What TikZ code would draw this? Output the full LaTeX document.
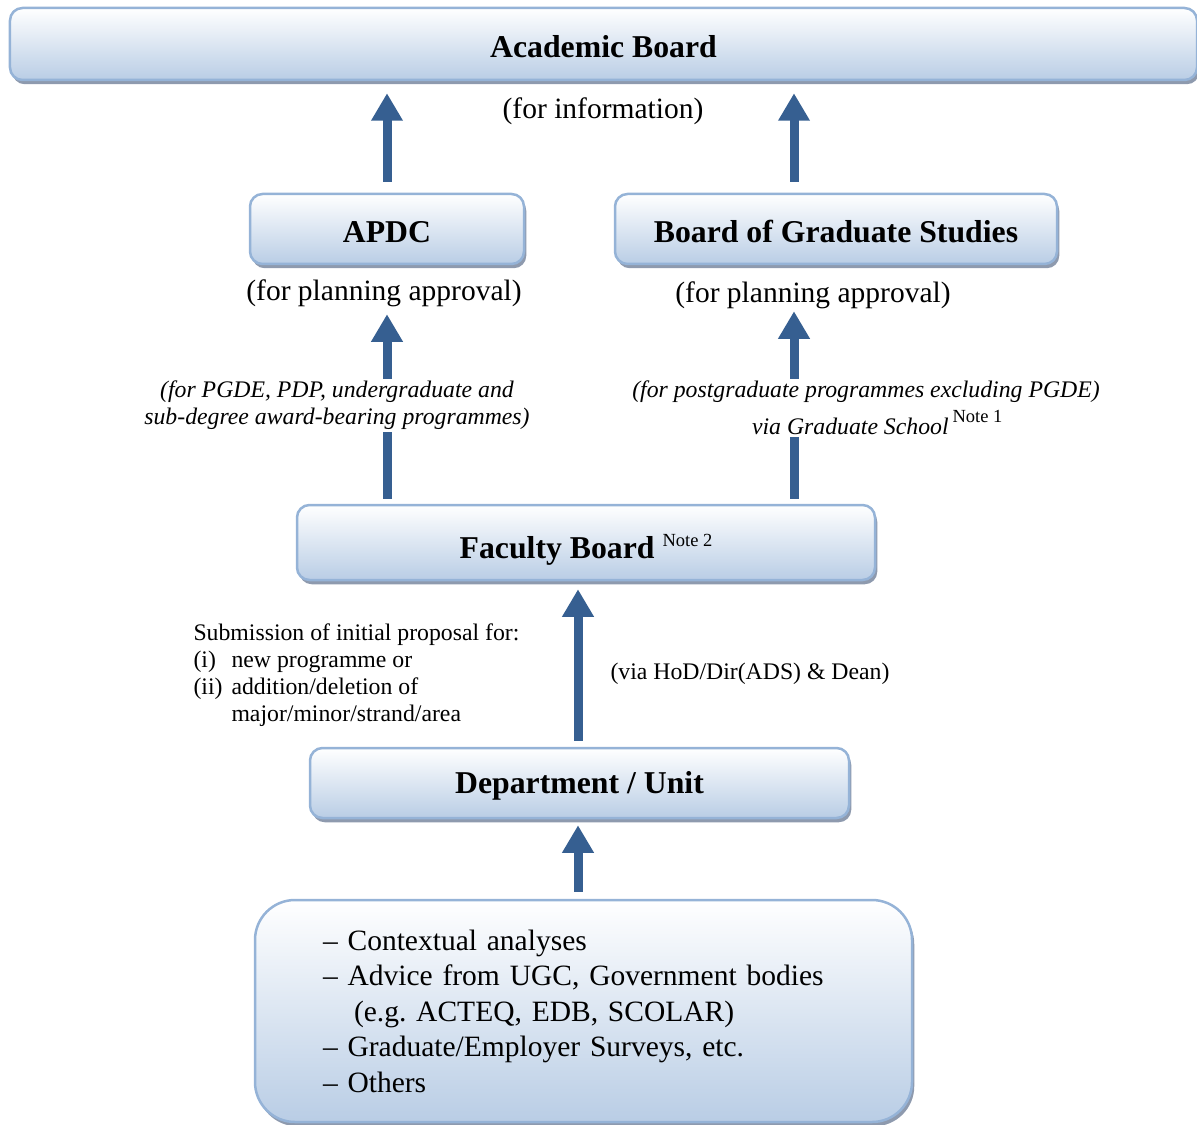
\documentclass[tikz,border=0pt]{standalone}
\usepackage{fontspec}
\setmainfont{Liberation Serif}
\usetikzlibrary{arrows.meta,positioning,shadows}
\definecolor{pdArrow}{HTML}{365F91}
\definecolor{pdEdge}{HTML}{95B3D7}
\definecolor{pdFill}{HTML}{B9CDE5}
\definecolor{pdShade}{HTML}{8E9AAE}
\newcommand{\pdnote}[2][4.8pt]{\raisebox{#1}{\fontsize{7.4}{8}\selectfont\normalfont\upshape #2}}
\tikzset{
  board/.style    ={draw=pdEdge,line width=1pt,rounded corners=5pt,
                    top color=white,bottom color=pdFill,
                    drop shadow={shadow xshift=0.9pt,shadow yshift=-1.7pt,
                                 fill=pdShade,opacity=1},
                    inner sep=0pt,text height=11pt,text depth=0pt,
                    font=\fontsize{12.7}{15}\selectfont\bfseries},
  srcbox/.style   ={board,rounded corners=16pt,text height=,text depth=,
                    font=\fontsize{11.8}{14.2}\selectfont,align=left},
  uparrow/.style  ={-{Triangle[width=12pt,length=11pt]},pdArrow,line width=3.6pt},
  lbl/.style      ={font=\fontsize{11.8}{14}\selectfont,inner sep=0pt},
  slbl/.style     ={font=\fontsize{9.5}{10.8}\selectfont,inner sep=0pt,align=left},
  ilbl/.style     ={font=\fontsize{9.5}{10.8}\selectfont\itshape,inner sep=1pt,
                    align=center,fill=white},
}

\begin{document}
\begin{tikzpicture}[x=0.4pt,y=-0.4pt]
\useasboundingbox (0,0) rectangle (1197,1124);
\coordinate (colL) at (387,0);
\coordinate (colM) at (578,0);
\coordinate (colR) at (794,0);

%% committees
\node[board,minimum width=474.8pt,minimum height=28.8pt] (acad) at (603.5,44) {Academic Board};
\node[lbl] (acadnote) at (603,111) {(for information)};
\node[board,minimum width=109.6pt,minimum height=28pt] (apdc) at (387,229) {APDC};
\node[lbl] (apdcnote) at (384,293) {(for planning approval)};
\node[board,minimum width=176.8pt,minimum height=28pt] (bgs) at (836,229) {Board of Graduate Studies};
\node[lbl] (bgsnote) at (813,295) {(for planning approval)};
\node[board,minimum width=231.2pt,minimum height=30pt,text height=13pt] (fac) at (586,542.5)
  {Faculty Board \pdnote{Note 2}};
\node[board,minimum width=215.6pt,minimum height=28pt,text height=8pt] (dept) at (579.5,783)
  {Department / Unit};
\node[srcbox,text width=208.4pt,inner xsep=27.2pt,minimum height=88.8pt] (src) at (583.5,1011)
  {– Contextual analyses\\
   – Advice from UGC, Government bodies\\
   \hspace*{12.4pt}(e.g.\ ACTEQ, EDB, SCOLAR)\\
   – Graduate/Employer Surveys, etc.\\
   – Others};

%% flows
\draw[uparrow,shorten <=4.4pt,shorten >=4.8pt] (colL |- apdc.north) -- (colL |- acad.south);
\draw[uparrow,shorten <=4.4pt,shorten >=4.8pt] (colR |- bgs.north) -- (colR |- acad.south);
\draw[uparrow,shorten <=2pt,shorten >=19.6pt] (colL |- fac.north) -- (colL |- apdc.south);
\draw[uparrow,shorten <=2pt,shorten >=18.4pt] (colR |- fac.north) -- (colR |- bgs.south);
\draw[uparrow,shorten <=2.4pt,shorten >=3.2pt] (colM |- dept.north) -- (colM |- fac.south);
\draw[uparrow,shorten <=2.8pt,shorten >=2.4pt] (colM |- src.north) -- (colM |- dept.south);

%% labels on the flows
\node[ilbl] (apdcvia) at (337,405.5)
  {(for PGDE, PDP, undergraduate and\\sub-degree award-bearing programmes)};
\node[ilbl] (bgsvia) at (866,408)
  {(for postgraduate programmes excluding PGDE)\\[2pt]
   \hspace*{9pt}via Graduate School\,\pdnote{Note 1}};
\node[slbl,anchor=west] (submit) at (193,675)
  {Submission of initial proposal for:\\
   \makebox[15.2pt][l]{(i)}new programme or\\
   \makebox[15.2pt][l]{(ii)}addition/deletion of\\
   \hspace*{15.2pt}major/minor/strand/area};
\node[slbl,anchor=west] (via) at (610,674) {(via HoD/Dir(ADS) \& Dean)};
\end{tikzpicture}
\end{document}
